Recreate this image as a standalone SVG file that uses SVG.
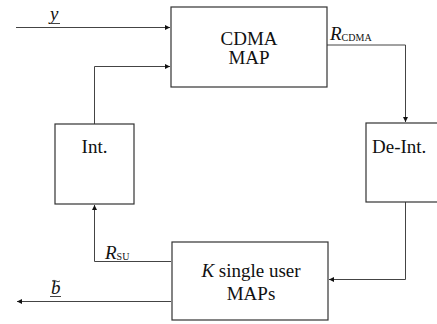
<svg xmlns="http://www.w3.org/2000/svg" width="437" height="324" viewBox="0 0 437 324">
<style>
.box{fill:#fff;stroke:#333;stroke-width:1.2}
.ln{fill:none;stroke:#444;stroke-width:1}
.t{font-family:"Liberation Serif","Times New Roman",serif;font-size:19px;fill:#111}
.it{font-style:italic}
.sm{font-size:10px;font-style:normal}
</style>
<defs>
<marker id="ah" viewBox="0 0 10 10" refX="10" refY="5" markerWidth="6" markerHeight="5" orient="auto" markerUnits="userSpaceOnUse">
<path d="M0,0 L10,5 L0,10 Z" fill="#111"/>
</marker>
</defs>
<g id="connectors">
<path class="ln" d="M16,27.5 H170" marker-end="url(#ah)"/>
<path class="ln" d="M94.5,124 V66.5 H170" marker-end="url(#ah)"/>
<path class="ln" d="M327,45 H405.5 V122" marker-end="url(#ah)"/>
<path class="ln" d="M405.5,202 V279.5 H329" marker-end="url(#ah)"/>
<path class="ln" d="M171,261.5 H94.5 V205" marker-end="url(#ah)"/>
<path class="ln" d="M171,301.5 H17" marker-end="url(#ah)"/>
</g>
<g id="label-y">
<text class="t it" x="50" y="20">y</text>
<line class="ln" x1="50" y1="23.5" x2="60" y2="23.5"/>
</g>
<g id="label-rcdma">
<text class="t it" x="330" y="40">R<tspan class="sm" dy="1">CDMA</tspan></text>
</g>
<g id="label-rsu">
<text class="t it" x="105" y="259">R<tspan class="sm" dy="1">SU</tspan></text>
</g>
<g id="label-b">
<text class="t it" x="51" y="294">b</text>
<path class="ln" d="M52,281 q2,-1.5 4,0 t4,0" stroke-width="0.8"/>
<line class="ln" x1="50" y1="296.5" x2="61" y2="296.5"/>
</g>
<g id="cdma-map">
<rect class="box" x="171" y="7" width="156" height="80"/>
<text class="t" x="249" y="45" text-anchor="middle">CDMA</text>
<text class="t" x="249" y="64" text-anchor="middle">MAP</text>
</g>
<g id="int">
<rect class="box" x="55" y="124" width="79" height="80"/>
<text class="t" x="94.5" y="153" text-anchor="middle">Int.</text>
</g>
<g id="deint">
<rect class="box" x="366" y="123" width="74" height="79"/>
<text class="t" x="372" y="153">De-Int.</text>
</g>
<g id="k-maps">
<rect class="box" x="172" y="242" width="156" height="78"/>
<text class="t" x="251" y="277" text-anchor="middle"><tspan class="it">K</tspan> single user</text>
<text class="t" x="251" y="300" text-anchor="middle">MAPs</text>
</g>
</svg>
